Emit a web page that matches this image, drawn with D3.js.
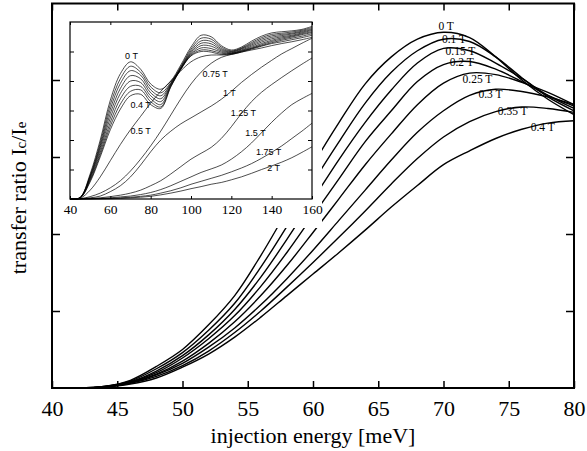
<!DOCTYPE html>
<html>
<head>
<meta charset="utf-8">
<script src="https://cdn.jsdelivr.net/npm/d3@7"></script>
<style>
  body { margin: 0; background: #fff; }
  svg { display: block; }
</style>
</head>
<body>
<script>
// main panel: energies and transfer ratio for each field
var energies = [42, 44, 46, 48, 50, 52, 54, 56, 58, 60, 62, 64, 66, 68, 70, 72, 74, 76, 78, 80];
var mainFields = ["0 T", "0.1 T", "0.15 T", "0.2 T", "0.25 T", "0.3 T", "0.35 T", "0.4 T"];
var main0 = [0, 0.02, 0.1, 0.28, 0.5, 0.82, 1.2, 1.72, 2.3, 2.9, 3.45, 3.95, 4.3, 4.53, 4.62, 4.55, 4.3, 4.0, 3.75, 3.55];
var main010 = [0, 0.02, 0.09, 0.25, 0.46, 0.75, 1.1, 1.57, 2.1, 2.67, 3.2, 3.7, 4.1, 4.38, 4.53, 4.5, 4.3, 4.03, 3.78, 3.6];
var main015 = [0, 0.02, 0.08, 0.22, 0.42, 0.69, 1.02, 1.44, 1.93, 2.45, 2.97, 3.45, 3.87, 4.22, 4.41, 4.38, 4.22, 4.02, 3.8, 3.63];
var main020 = [0, 0.015, 0.075, 0.2, 0.39, 0.64, 0.94, 1.32, 1.76, 2.24, 2.72, 3.2, 3.6, 3.98, 4.2, 4.24, 4.14, 3.98, 3.8, 3.66];
var main025 = [0, 0.015, 0.07, 0.18, 0.35, 0.58, 0.86, 1.2, 1.59, 2.02, 2.46, 2.9, 3.3, 3.68, 3.96, 4.09, 4.07, 3.97, 3.84, 3.68];
var main030 = [0, 0.012, 0.065, 0.17, 0.32, 0.53, 0.78, 1.08, 1.42, 1.79, 2.18, 2.57, 2.96, 3.32, 3.6, 3.8, 3.88, 3.85, 3.78, 3.68];
var main035 = [0, 0.011, 0.06, 0.15, 0.29, 0.48, 0.72, 1.0, 1.31, 1.63, 1.96, 2.3, 2.65, 2.98, 3.26, 3.46, 3.59, 3.65, 3.63, 3.58];
var main040 = [0, 0.01, 0.05, 0.13, 0.27, 0.44, 0.66, 0.92, 1.2, 1.48, 1.76, 2.05, 2.35, 2.63, 2.9, 3.08, 3.24, 3.36, 3.44, 3.47];
var mainSeries = [main0, main010, main015, main020, main025, main030, main035, main040];
// label anchors (energy, value) of the field labels in main panel
var mainLabelE = [70.2, 70.8, 71.3, 71.4, 72.6, 73.6, 75.3, 77.6];
var mainLabelV = [4.65, 4.48, 4.32, 4.18, 3.96, 3.77, 3.55, 3.34];

// inset
var insetEnergies = [40, 45, 50, 55, 60, 65, 70, 75, 80, 85, 90, 95, 100, 105, 110, 115, 120, 125, 130, 135, 140, 145, 150, 155, 160];
var ins0 = [0, 0.05, 0.85, 2.0, 3.35, 4.25, 4.65, 4.4, 3.9, 3.72, 4.0, 4.55, 5.15, 5.55, 5.5, 5.2, 5.05, 5.15, 5.35, 5.52, 5.63, 5.67, 5.7, 5.75, 5.85];
var ins010 = [0, 0.05, 0.8, 1.9, 3.2, 4.08, 4.5, 4.3, 3.8, 3.6, 3.95, 4.5, 5.08, 5.45, 5.42, 5.15, 5.02, 5.12, 5.3, 5.47, 5.58, 5.62, 5.66, 5.72, 5.81];
var ins015 = [0, 0.05, 0.77, 1.82, 3.05, 3.92, 4.35, 4.2, 3.7, 3.5, 3.92, 4.47, 5.02, 5.36, 5.34, 5.1, 5.0, 5.1, 5.26, 5.42, 5.53, 5.58, 5.62, 5.69, 5.77];
var ins020 = [0, 0.04, 0.74, 1.75, 2.9, 3.75, 4.18, 4.08, 3.6, 3.4, 3.9, 4.45, 4.97, 5.28, 5.26, 5.06, 4.98, 5.08, 5.22, 5.37, 5.48, 5.54, 5.59, 5.66, 5.74];
var ins025 = [0, 0.04, 0.7, 1.67, 2.75, 3.58, 4.0, 3.95, 3.5, 3.3, 3.87, 4.43, 4.93, 5.2, 5.18, 5.02, 4.96, 5.05, 5.18, 5.32, 5.43, 5.5, 5.55, 5.63, 5.71];
var ins030 = [0, 0.04, 0.66, 1.58, 2.6, 3.4, 3.82, 3.82, 3.4, 3.2, 3.85, 4.41, 4.9, 5.12, 5.1, 4.98, 4.94, 5.03, 5.14, 5.27, 5.38, 5.46, 5.52, 5.6, 5.67];
var ins035 = [0, 0.04, 0.62, 1.5, 2.47, 3.22, 3.65, 3.7, 3.3, 3.12, 3.82, 4.4, 4.87, 5.05, 5.03, 4.94, 4.93, 5.01, 5.11, 5.23, 5.34, 5.42, 5.49, 5.57, 5.64];
var ins040 = [0, 0.03, 0.58, 1.43, 2.35, 3.05, 3.5, 3.55, 3.2, 3.07, 3.8, 4.4, 4.85, 5.0, 4.98, 4.9, 4.92, 5.0, 5.1, 5.2, 5.3, 5.38, 5.45, 5.52, 5.6];
var ins050 = [0, 0.02, 0.3, 0.75, 1.3, 1.85, 2.35, 2.8, 3.25, 3.65, 4.0, 4.35, 4.65, 4.82, 4.88, 4.88, 4.9, 4.98, 5.08, 5.18, 5.27, 5.33, 5.4, 5.47, 5.55];
var ins075 = [0, 0.01, 0.08, 0.2, 0.38, 0.62, 0.95, 1.35, 1.8, 2.3, 2.85, 3.4, 3.9, 4.3, 4.6, 4.8, 4.9, 4.98, 5.05, 5.12, 5.2, 5.27, 5.33, 5.4, 5.48];
var ins100 = [0, 0.01, 0.04, 0.1, 0.25, 0.45, 0.75, 1.15, 1.6, 2.0, 2.3, 2.55, 2.75, 2.95, 3.15, 3.38, 3.65, 3.95, 4.22, 4.47, 4.7, 4.92, 5.1, 5.28, 5.45];
var ins125 = [0, 0.005, 0.02, 0.04, 0.08, 0.13, 0.2, 0.3, 0.45, 0.62, 0.85, 1.1, 1.35, 1.55, 1.75, 2.05, 2.45, 2.9, 3.3, 3.62, 3.88, 4.12, 4.35, 4.57, 4.78];
var ins150 = [0, 0.003, 0.01, 0.02, 0.04, 0.07, 0.1, 0.15, 0.22, 0.32, 0.45, 0.6, 0.75, 0.9, 1.02, 1.15, 1.35, 1.6, 1.9, 2.25, 2.6, 2.92, 3.2, 3.4, 3.58];
var ins175 = [0, 0.002, 0.005, 0.01, 0.02, 0.04, 0.06, 0.09, 0.13, 0.2, 0.28, 0.38, 0.5, 0.6, 0.7, 0.8, 0.92, 1.05, 1.2, 1.38, 1.58, 1.8, 2.05, 2.3, 2.57];
var ins200 = [0, 0.001, 0.003, 0.006, 0.01, 0.02, 0.04, 0.06, 0.09, 0.14, 0.2, 0.27, 0.35, 0.42, 0.5, 0.56, 0.65, 0.75, 0.87, 1.0, 1.12, 1.25, 1.4, 1.58, 1.77];
var insetSeries = [ins0, ins010, ins015, ins020, ins025, ins030, ins035, ins040, ins050, ins075, ins100, ins125, ins150, ins175, ins200];
var insetLabels = ["0 T", "0.4 T", "0.5 T", "0.75 T", "1 T", "1.25 T", "1.5 T", "1.75 T", "2 T"];
var insetLabelE = [70.5, 75, 75, 112, 119, 126, 132, 138.5, 141];
var insetLabelV = [4.75, 3.1, 2.2, 4.15, 3.5, 2.8, 2.15, 1.5, 0.95];

var mainTicks = [40, 45, 50, 55, 60, 65, 70, 75, 80];
var insetTicks = [40, 60, 80, 100, 120, 140, 160];

var width = 587, height = 451;
var svg = d3.select("body").append("svg")
    .attr("width", width)
    .attr("height", height);

var x = d3.scaleLinear().domain([40, 80]).range([52, 574]);
var y = d3.scaleLinear().domain([0, 5]).range([388, 3]);

var line = d3.line()
    .x(function(d) { return x(d[0]); })
    .y(function(d) { return y(d[1]); })
    .curve(d3.curveCatmullRom);

// main curves
svg.append("g").selectAll("path")
    .data(mainSeries)
    .enter().append("path")
    .attr("d", function(s) { return line(energies.map(function(e, i) { return [e, s[i]]; })); })
    .attr("fill", "none")
    .attr("stroke", "#000")
    .attr("stroke-width", 1.4);

// main field labels
svg.append("g").selectAll("text")
    .data(mainFields)
    .enter().append("text")
    .attr("x", function(d, i) { return x(mainLabelE[i]); })
    .attr("y", function(d, i) { return y(mainLabelV[i]); })
    .attr("text-anchor", "middle")
    .attr("font-family", "Liberation Serif, Times New Roman, serif")
    .attr("font-size", 11.5)
    .text(function(d) { return d; });

// main frame + ticks
svg.append("rect")
    .attr("x", 52).attr("y", 3.5).attr("width", 522).attr("height", 384.5)
    .attr("fill", "none").attr("stroke", "#000").attr("stroke-width", 2);

var axB = d3.axisBottom(x).tickValues(mainTicks).tickSize(-7).tickPadding(12).tickFormat(d3.format("d"));
var gB = svg.append("g").attr("transform", "translate(0,388)").call(axB);
var axT = d3.axisTop(x).tickValues(mainTicks).tickSize(-7).tickFormat("");
var gT = svg.append("g").attr("transform", "translate(0,3.5)").call(axT);
var axL = d3.axisLeft(y).tickValues([1, 2, 3, 4]).tickSize(-8).tickFormat("");
var gL = svg.append("g").attr("transform", "translate(52,0)").call(axL);
var axR = d3.axisRight(y).tickValues([1, 2, 3, 4]).tickSize(-8).tickFormat("");
var gR = svg.append("g").attr("transform", "translate(574,0)").call(axR);
[gB, gT, gL, gR].forEach(function(g) {
    g.select(".domain").remove();
    g.selectAll("line").attr("stroke-width", 1.5);
});
gB.selectAll("text")
    .attr("font-family", "Liberation Serif, Times New Roman, serif")
    .attr("font-size", 22)
    .attr("fill", "#000");

svg.append("text")
    .attr("x", 313).attr("y", 443)
    .attr("text-anchor", "middle")
    .attr("font-family", "Liberation Serif, Times New Roman, serif")
    .attr("font-size", 22)
    .text("injection energy [meV]");

var yt = svg.append("text")
    .attr("transform", "translate(26,198) rotate(-90)")
    .attr("text-anchor", "middle")
    .attr("font-family", "Liberation Serif, Times New Roman, serif")
    .attr("font-size", 22);
yt.append("tspan").text("transfer ratio I");
yt.append("tspan").attr("font-size", 15).text("c");
yt.append("tspan").text("/I");
yt.append("tspan").attr("font-size", 15).text("e");

// inset: white box first, so the main curves break behind it
svg.append("rect")
    .attr("x", 60).attr("y", 12).attr("width", 262).attr("height", 216)
    .attr("fill", "#fff");

var xi = d3.scaleLinear().domain([40, 160]).range([70, 312]);
var yi = d3.scaleLinear().domain([0, 6]).range([199, 22]);
var lineI = d3.line()
    .x(function(d) { return xi(d[0]); })
    .y(function(d) { return yi(d[1]); })
    .curve(d3.curveCatmullRom);

svg.append("g").selectAll("path")
    .data(insetSeries)
    .enter().append("path")
    .attr("d", function(s) { return lineI(insetEnergies.map(function(e, i) { return [e, s[i]]; })); })
    .attr("fill", "none")
    .attr("stroke", "#000")
    .attr("stroke-width", 0.7);

svg.append("g").selectAll("text")
    .data(insetLabels)
    .enter().append("text")
    .attr("x", function(d, i) { return xi(insetLabelE[i]); })
    .attr("y", function(d, i) { return yi(insetLabelV[i]); })
    .attr("text-anchor", "middle")
    .attr("font-family", "Liberation Sans, Arial, sans-serif")
    .attr("font-size", 9)
    .text(function(d) { return d; });

svg.append("rect")
    .attr("x", 70).attr("y", 22).attr("width", 242).attr("height", 177)
    .attr("fill", "none").attr("stroke", "#000").attr("stroke-width", 1.2);

var aiB = d3.axisBottom(xi).tickValues(insetTicks).tickSize(-3).tickPadding(5).tickFormat(d3.format("d"));
var giB = svg.append("g").attr("transform", "translate(0,199)").call(aiB);
var aiL = d3.axisLeft(yi).tickValues([1, 2, 3, 4, 5]).tickSize(-4).tickFormat("");
var giL = svg.append("g").attr("transform", "translate(70,0)").call(aiL);
var aiR = d3.axisRight(yi).tickValues([1, 2, 3, 4, 5]).tickSize(-4).tickFormat("");
var giR = svg.append("g").attr("transform", "translate(312,0)").call(aiR);
var aiT = d3.axisTop(xi).tickValues(insetTicks).tickSize(-3).tickFormat("");
var giT = svg.append("g").attr("transform", "translate(0,22)").call(aiT);
[giB, giL, giR, giT].forEach(function(g) {
    g.select(".domain").remove();
    g.selectAll("line").attr("stroke-width", 1);
});
giB.selectAll("text")
    .attr("font-family", "Liberation Serif, Times New Roman, serif")
    .attr("font-size", 13.5)
    .attr("fill", "#000");
</script>
</body>
</html>
